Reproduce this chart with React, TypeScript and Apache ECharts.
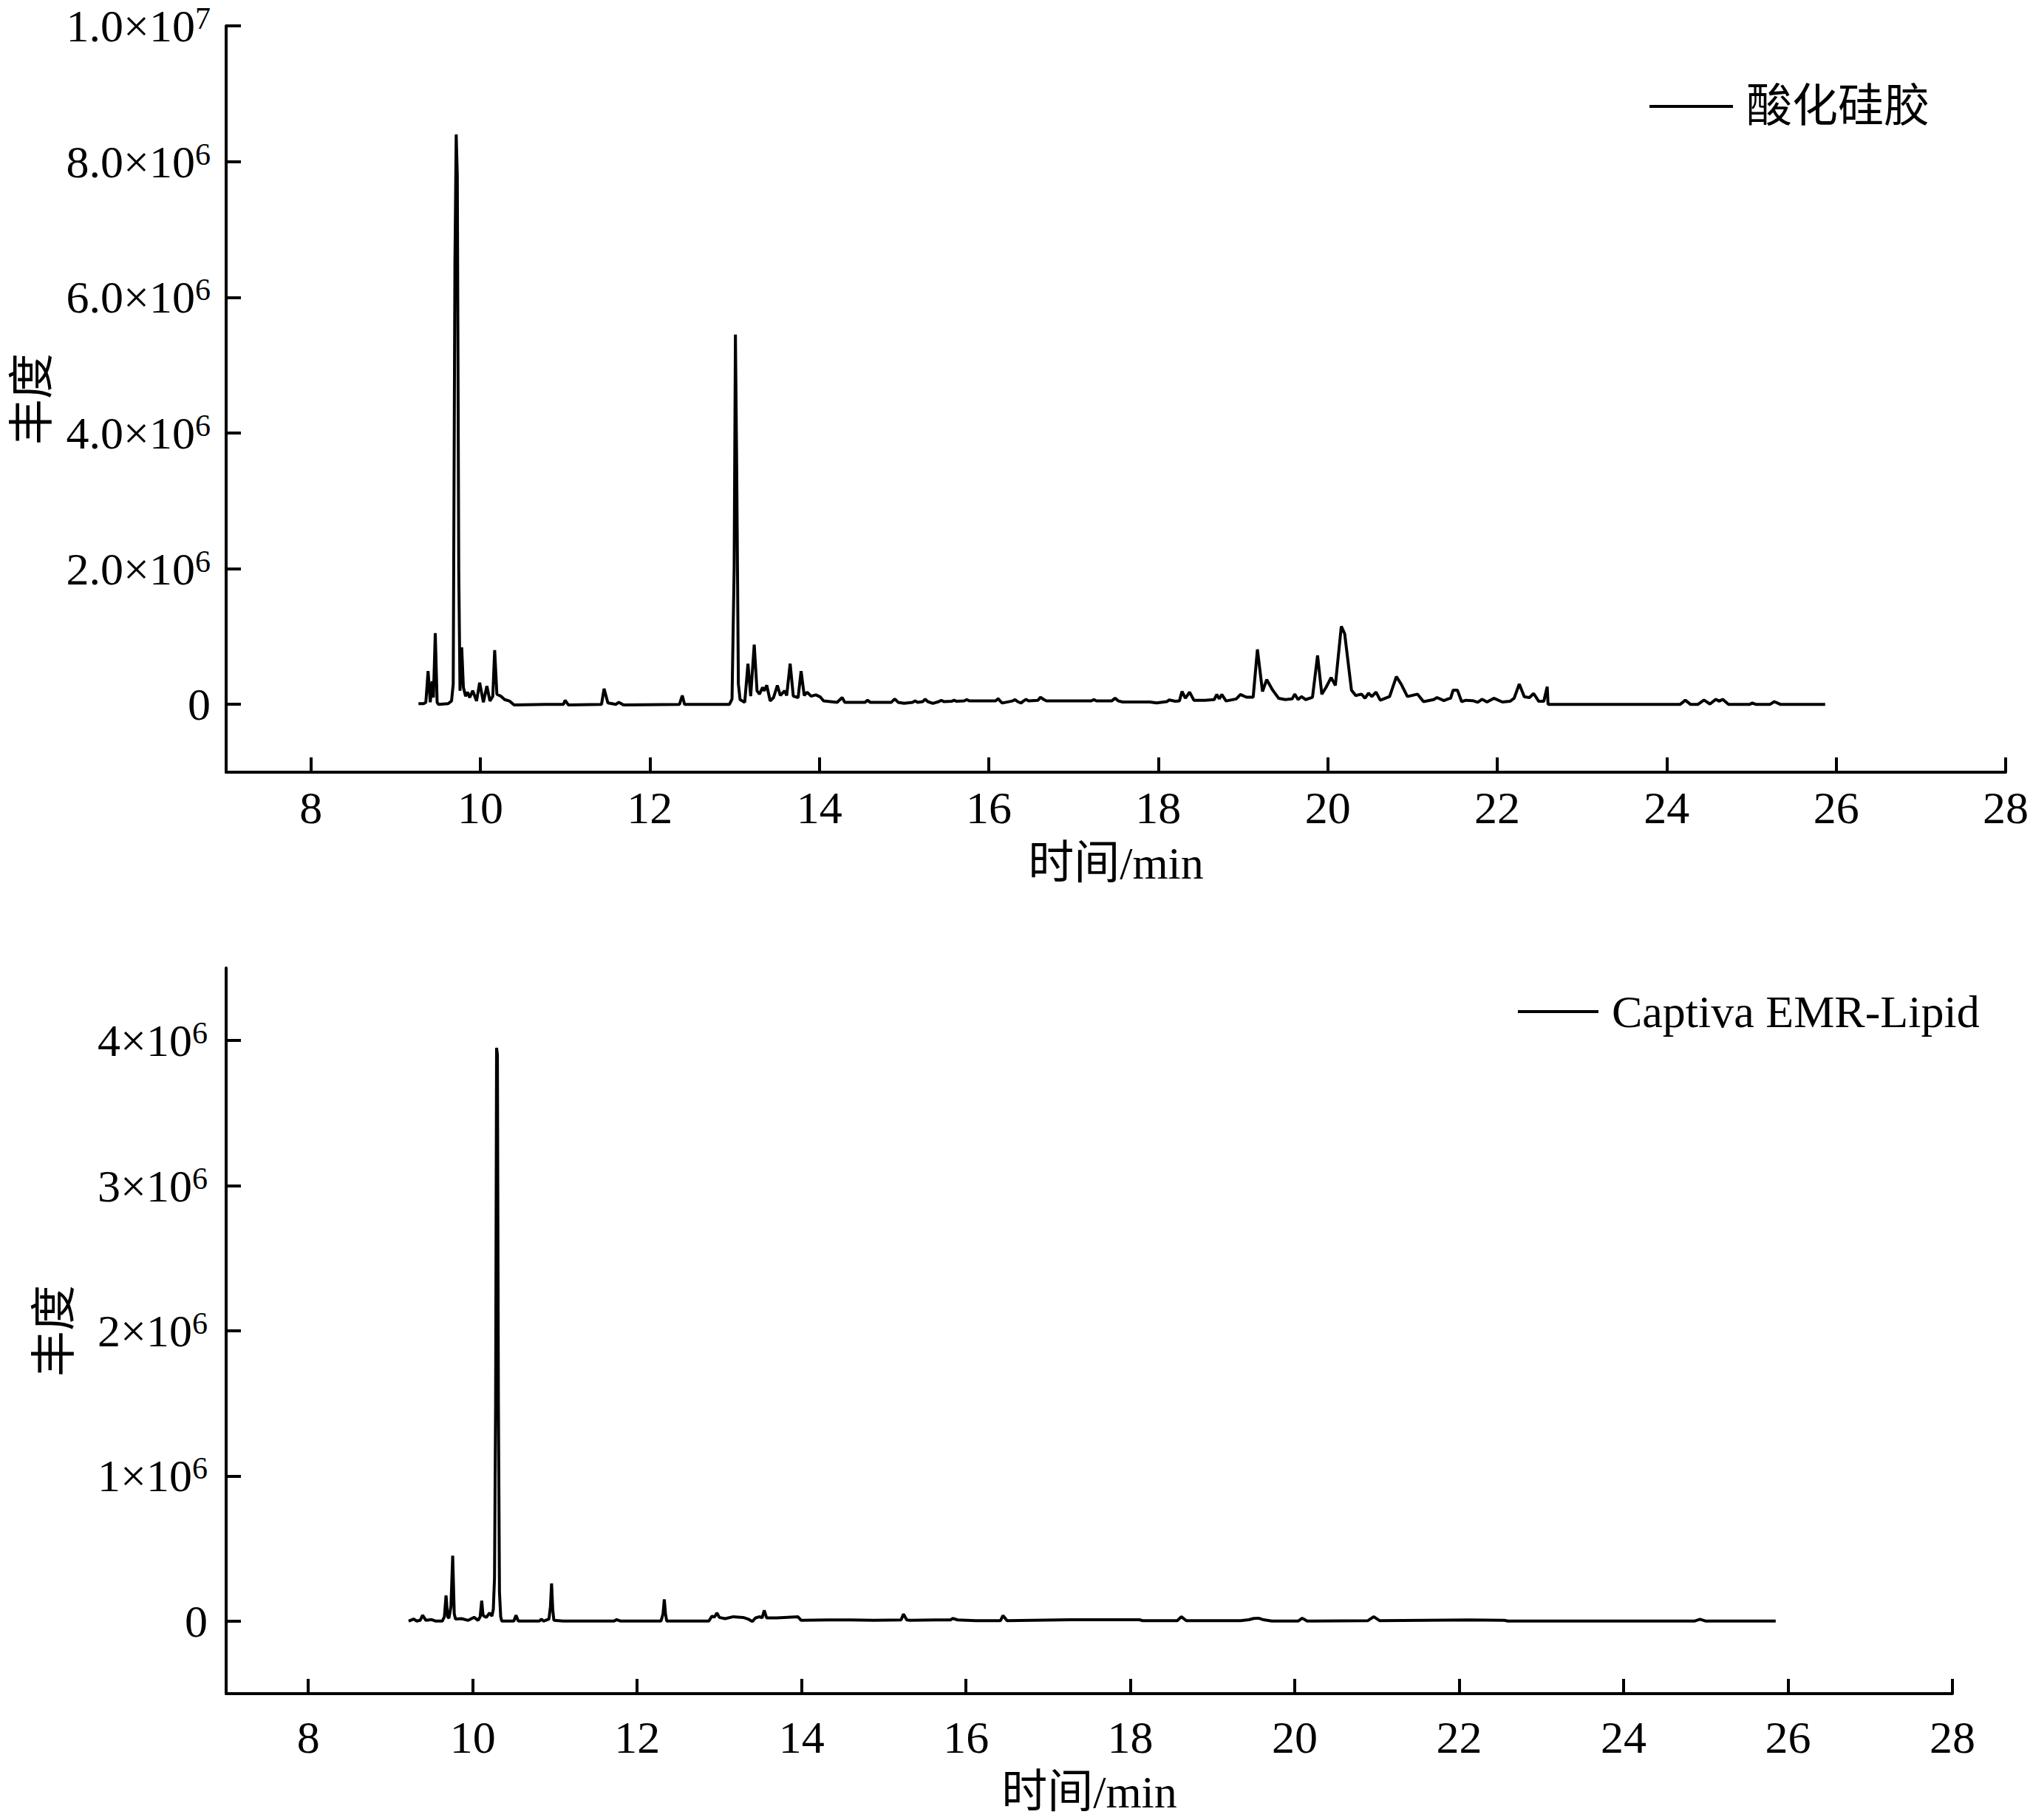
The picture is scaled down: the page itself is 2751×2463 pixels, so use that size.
import React, { useEffect, useRef } from "react";
import * as echarts from "echarts";

// [retention time (min), abundance (×10^6)] — 酸化硅胶
const silicaPoints = [
  [9.27, 0.01], [9.33, 0.01], [9.357, 0.03], [9.383, 0.49], [9.409, 0.03], [9.431, 0.34], [9.446, 0.1],
  [9.468, 1.05], [9.49, 0.03], [9.505, 0], [9.62, 0.01], [9.66, 0.05], [9.68, 0.3], [9.7, 6.5], [9.715, 8.4],
  [9.728, 7.8], [9.745, 2.0], [9.76, 0.2], [9.78, 0.84], [9.8, 0.25], [9.826, 0.12], [9.85, 0.18], [9.874, 0.1],
  [9.91, 0.2], [9.955, 0.05], [9.992, 0.32], [10.036, 0.03], [10.077, 0.27], [10.113, 0.05], [10.147, 0.12],
  [10.169, 0.8], [10.195, 0.15], [10.243, 0.12], [10.287, 0.07], [10.342, 0.05], [10.398, -0.01], [10.77, 0],
  [10.98, 0], [11.0, 0.06], [11.04, -0.01], [11.43, 0], [11.46, 0.23], [11.505, 0.02], [11.6, 0], [11.634, 0.03],
  [11.69, -0.01], [12.35, 0], [12.383, 0.13], [12.41, 0], [12.94, 0], [12.97, 0.08], [12.995, 2.0], [13.01, 5.45],
  [13.025, 3.5], [13.045, 0.3], [13.065, 0.07], [13.12, 0.03], [13.158, 0.6], [13.19, 0.12], [13.232, 0.88],
  [13.265, 0.2], [13.294, 0.15], [13.33, 0.25], [13.35, 0.2], [13.38, 0.28], [13.42, 0.05], [13.46, 0.1],
  [13.505, 0.28], [13.54, 0.13], [13.59, 0.2], [13.615, 0.13], [13.656, 0.6], [13.693, 0.12], [13.75, 0.1],
  [13.785, 0.49], [13.822, 0.13], [13.855, 0.18], [13.903, 0.12], [13.96, 0.14], [14.01, 0.11], [14.05, 0.05],
  [14.21, 0.03], [14.27, 0.1], [14.3, 0.03], [14.49, 0.03], [14.54, 0.03], [14.57, 0.06], [14.6, 0.03],
  [14.85, 0.03], [14.89, 0.08], [14.93, 0.03], [15.0, 0.015], [15.1, 0.03], [15.13, 0.05], [15.16, 0.03],
  [15.22, 0.04], [15.25, 0.075], [15.28, 0.04], [15.34, 0.015], [15.41, 0.04], [15.44, 0.06], [15.47, 0.04],
  [15.56, 0.045], [15.59, 0.06], [15.62, 0.045], [15.71, 0.05], [15.74, 0.07], [15.77, 0.05], [15.89, 0.05],
  [16.08, 0.05], [16.11, 0.085], [16.14, 0.04], [16.16, 0.02], [16.28, 0.05], [16.31, 0.07], [16.34, 0.04],
  [16.38, 0.02], [16.41, 0.05], [16.44, 0.075], [16.47, 0.05], [16.58, 0.06], [16.61, 0.105], [16.65, 0.07],
  [16.68, 0.05], [16.8, 0.05], [17.0, 0.05], [17.21, 0.05], [17.24, 0.07], [17.27, 0.05], [17.45, 0.05],
  [17.49, 0.09], [17.53, 0.05], [17.58, 0.035], [17.9, 0.035], [17.98, 0.02], [18.1, 0.04], [18.13, 0.065],
  [18.2, 0.045], [18.25, 0.05], [18.28, 0.19], [18.32, 0.09], [18.37, 0.18], [18.42, 0.06], [18.55, 0.06],
  [18.66, 0.07], [18.69, 0.145], [18.72, 0.08], [18.75, 0.145], [18.8, 0.05], [18.92, 0.08], [18.97, 0.145],
  [19.04, 0.105], [19.12, 0.105], [19.17, 0.81], [19.23, 0.19], [19.28, 0.365], [19.35, 0.21], [19.42, 0.09],
  [19.5, 0.07], [19.58, 0.08], [19.61, 0.15], [19.65, 0.07], [19.69, 0.115], [19.74, 0.07], [19.82, 0.105],
  [19.88, 0.72], [19.93, 0.15], [19.98, 0.25], [20.04, 0.395], [20.09, 0.28], [20.16, 1.15], [20.2, 1.04],
  [20.28, 0.21], [20.33, 0.13], [20.4, 0.15], [20.44, 0.09], [20.48, 0.165], [20.52, 0.115], [20.57, 0.18],
  [20.62, 0.06], [20.73, 0.115], [20.81, 0.41], [20.87, 0.29], [20.94, 0.115], [21.06, 0.15], [21.13, 0.04],
  [21.25, 0.07], [21.29, 0.1], [21.37, 0.055], [21.42, 0.08], [21.45, 0.09], [21.48, 0.21], [21.53, 0.21],
  [21.58, 0.04], [21.63, 0.06], [21.71, 0.055], [21.77, 0.03], [21.82, 0.075], [21.88, 0.035], [21.96, 0.09],
  [22.06, 0.035], [22.15, 0.045], [22.2, 0.09], [22.26, 0.3], [22.32, 0.11], [22.38, 0.1], [22.43, 0.16],
  [22.49, 0.045], [22.55, 0.045], [22.59, 0.26], [22.6, 0], [23.5, 0], [24.16, 0], [24.22, 0.06], [24.28, 0],
  [24.37, 0], [24.44, 0.063], [24.51, 0.005], [24.58, 0.074], [24.62, 0.047], [24.66, 0.074], [24.73, 0],
  [24.98, 0], [25.01, 0.02], [25.05, 0], [25.22, 0], [25.27, 0.04], [25.34, 0], [25.87, 0],
];

// [retention time (min), abundance (×10^6)] — Captiva EMR-Lipid
const captivaPoints = [
  [9.22, 0], [9.28, 0.014], [9.32, 0], [9.36, 0.005], [9.39, 0.04], [9.43, 0.005], [9.5, 0.01], [9.55, 0],
  [9.63, 0], [9.655, 0.03], [9.675, 0.176], [9.695, 0.03], [9.71, 0.02], [9.735, 0.1], [9.756, 0.45],
  [9.775, 0.05], [9.79, 0.014], [9.864, 0.017], [9.944, 0.005], [10.016, 0.026], [10.065, 0.005], [10.09, 0.03],
  [10.109, 0.14], [10.125, 0.04], [10.137, 0.034], [10.165, 0.026], [10.205, 0.056], [10.233, 0.034],
  [10.25, 0.08], [10.265, 0.3], [10.278, 1.5], [10.29, 3.95], [10.3, 3.9], [10.312, 1.5], [10.325, 0.2],
  [10.34, 0.03], [10.353, 0], [10.5, 0], [10.526, 0.04], [10.554, 0], [10.81, 0], [10.835, 0.014], [10.86, 0],
  [10.927, 0.014], [10.945, 0.1], [10.959, 0.26], [10.973, 0.08], [10.987, 0.005], [11.1, 0], [11.72, 0],
  [11.75, 0.01], [11.8, 0], [12.29, 0], [12.315, 0.05], [12.33, 0.15], [12.345, 0.05], [12.36, 0], [12.872, 0],
  [12.91, 0.034], [12.94, 0.027], [12.97, 0.056], [13.0, 0.025], [13.07, 0.017], [13.17, 0.03], [13.29, 0.025],
  [13.35, 0.014], [13.4, -0.003], [13.44, 0.022], [13.49, 0.03], [13.52, 0.022], [13.546, 0.074],
  [13.575, 0.022], [13.7, 0.022], [13.955, 0.03], [13.995, 0.005], [14.32, 0.008], [14.6, 0.008], [14.88, 0.005],
  [15.21, 0.008], [15.24, 0.048], [15.28, 0.008], [15.32, 0.005], [15.63, 0.008], [15.81, 0.008], [15.84, 0.018],
  [15.9, 0.008], [16.12, 0.003], [16.42, 0.003], [16.45, 0.038], [16.5, 0.003], [17.27, 0.009], [18.11, 0.009],
  [18.15, 0.003], [18.57, 0.003], [18.62, 0.03], [18.68, 0.003], [19.34, 0.003], [19.44, 0.009], [19.5, 0.018],
  [19.56, 0.02], [19.62, 0.009], [19.72, 0], [20.04, 0], [20.09, 0.02], [20.15, 0], [20.89, 0.003],
  [20.96, 0.03], [21.03, 0.003], [22.13, 0.008], [22.55, 0.005], [22.59, 0], [24.86, 0], [24.93, 0.012],
  [25.0, 0], [25.85, 0],
];

const xTicks = [8, 10, 12, 14, 16, 18, 20, 22, 24, 26, 28];
const topYTicks = [0, 2, 4, 6, 8, 10];
const bottomYTicks = [0, 1, 2, 3, 4];
const seriesNames = ["酸化硅胶", "Captiva EMR-Lipid"];
const yAxisTitle = "丰度";
const xAxisTitle = "时间/min";

const FONT = "'Liberation Serif', 'Times New Roman', 'Noto Sans CJK SC', serif";

export default function App() {
  const ref = useRef<HTMLDivElement>(null);
  useEffect(() => {
    if (!ref.current) return;
    const chart = echarts.init(ref.current, undefined, { renderer: "svg" });
    const rich = {
      m: { fontSize: 62, fontFamily: FONT, color: "#000", lineHeight: 62 },
      s: { fontSize: 42, fontFamily: FONT, color: "#000", lineHeight: 30, verticalAlign: "top" },
    };
    const axisLineStyle = { color: "#000", width: 4 };
    const xAxisBase = (gridIndex: number, labelMargin: number, nameGap: number) => ({
      type: "value",
      gridIndex,
      min: 7,
      max: 28,
      name: xAxisTitle,
      nameLocation: "middle",
      nameGap,
      nameTextStyle: { fontSize: 62, fontFamily: FONT, color: "#000", lineHeight: 62 },
      axisLine: { show: true, onZero: false, lineStyle: axisLineStyle },
      axisTick: { show: true, inside: true, length: 20, lineStyle: axisLineStyle, customValues: xTicks },
      axisLabel: { fontSize: 62, fontFamily: FONT, color: "#000", margin: labelMargin, lineHeight: 62, customValues: xTicks },
      splitLine: { show: false },
    });
    const legendBase = (name: string, left: number, top: number, itemWidth: number) => ({
      data: [name],
      left,
      top,
      padding: 0,
      itemWidth,
      itemHeight: 4,
      icon: "rect",
      itemStyle: { color: "#000" },
      textStyle: { fontSize: 62, fontFamily: FONT, color: "#000", lineHeight: 62, padding: [0, 0, 0, 13] },
    });
    const option = {
      animation: false,
      backgroundColor: "#fff",
      grid: [
        { left: 306, right: 37, top: 35, height: 1010, containLabel: false, outerBoundsMode: "none" },
        { left: 306, right: 109, top: 1310, height: 982, containLabel: false, outerBoundsMode: "none" },
      ],
      legend: [legendBase(seriesNames[0], 2232, 113, 113), legendBase(seriesNames[1], 2054, 1338, 109)],
      xAxis: [xAxisBase(0, 17, 92), xAxisBase(1, 28, 102)],
      yAxis: [
        {
          type: "value",
          gridIndex: 0,
          min: -1,
          max: 10,
          name: yAxisTitle,
          nameLocation: "middle",
          nameGap: 231,
          nameTextStyle: { fontSize: 62, fontFamily: FONT, color: "#000", lineHeight: 62 },
          axisLine: { show: true, onZero: false, lineStyle: axisLineStyle },
          axisTick: { show: true, inside: true, length: 20, lineStyle: axisLineStyle, customValues: topYTicks },
          axisLabel: {
            margin: 21,
            customValues: topYTicks,
            formatter: (v: number) =>
              v === 0 ? "{m|0}" : v === 10 ? "{m|1.0×10}{s|7}" : `{m|${v.toFixed(1)}×10}{s|6}`,
            rich,
          },
          splitLine: { show: false },
        },
        {
          type: "value",
          gridIndex: 1,
          min: -0.5,
          max: 4.5,
          name: yAxisTitle,
          nameLocation: "middle",
          nameGap: 201,
          nameTextStyle: { fontSize: 62, fontFamily: FONT, color: "#000", lineHeight: 62 },
          axisLine: { show: true, onZero: false, lineStyle: axisLineStyle },
          axisTick: { show: true, inside: true, length: 20, lineStyle: axisLineStyle, customValues: bottomYTicks },
          axisLabel: {
            margin: 25,
            customValues: bottomYTicks,
            formatter: (v: number) => (v === 0 ? "{m|0}" : `{m|${v}×10}{s|6}`),
            rich,
          },
          splitLine: { show: false },
        },
      ],
      series: [
        {
          name: seriesNames[0],
          type: "line",
          xAxisIndex: 0,
          yAxisIndex: 0,
          symbol: "none",
          color: "#000",
          lineStyle: { color: "#000", width: 4 },
          data: silicaPoints,
        },
        {
          name: seriesNames[1],
          type: "line",
          xAxisIndex: 1,
          yAxisIndex: 1,
          symbol: "none",
          color: "#000",
          lineStyle: { color: "#000", width: 4 },
          data: captivaPoints,
        },
      ],
    };
    chart.setOption(option as any);
    return () => chart.dispose();
  }, []);
  return (
    <div
      ref={ref}
      style={{ position: "absolute", left: 0, top: 0, width: 2751, height: 2463, background: "#fff" }}
    />
  );
}
